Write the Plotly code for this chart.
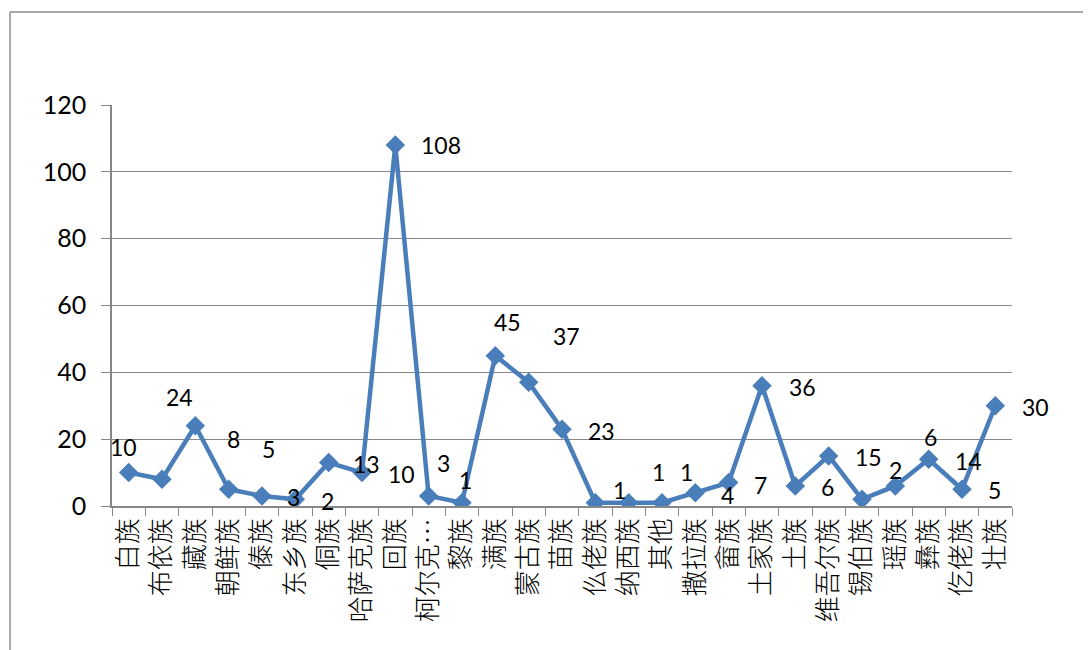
import plotly.graph_objects as go

categories = ["白族", "布依族", "藏族", "朝鲜族", "傣族", "东乡族", "侗族", "哈萨克族", "回族",
              "柯尔克孜族", "黎族", "满族", "蒙古族", "苗族", "仫佬族", "纳西族", "其他", "撒拉族",
              "畲族", "土家族", "土族", "维吾尔族", "锡伯族", "瑶族", "彝族", "仡佬族", "壮族"]
tick_labels = ["白族", "布依族", "藏族", "朝鲜族", "傣族", "东乡族", "侗族", "哈萨克族", "回族",
               "柯尔克…", "黎族", "满族", "蒙古族", "苗族", "仫佬族", "纳西族", "其他", "撒拉族",
               "畲族", "土家族", "土族", "维吾尔族", "锡伯族", "瑶族", "彝族", "仡佬族", "壮族"]
values = [10, 8, 24, 5, 3, 2, 13, 10, 108, 3, 1, 45, 37, 23, 1, 1, 1, 4, 7, 36, 6, 15, 2, 6, 14, 5, 30]
y_ticks = [0, 20, 40, 60, 80, 100, 120]

# label offsets (pixels) - style only
label_dx = [-5, 71, -16, 40, 31, 32, 38, 39, 46, 15, 3, 12, 38, 39, 24, 30, 24, 32, 32, 40, 32, 40, 33, 35, 40, 32, 40]
label_dy = [26, 40, 29, 40, -1, -2, -1, -1, 0, 33, 23, 34, 46, -2, 13, 31, 31, -2, -2, -1, -1, -1, 29, 49, -2, -1, -1]

BLUE = "#4a7ebb"
GRID = "#888888"
FONT = "Lato, Noto Sans CJK SC, sans-serif"

fig = go.Figure()
fig.add_trace(go.Scatter(
    x=categories, y=values, mode="lines+markers",
    line=dict(color=BLUE, width=4.5),
    marker=dict(symbol="diamond", size=15, color=BLUE),
    hoverinfo="x+y", showlegend=False,
))

for c, v, dx, dy in zip(categories, values, label_dx, label_dy):
    fig.add_annotation(x=c, y=v, text=str(v), showarrow=False, xshift=dx, yshift=dy,
                       font=dict(family=FONT, size=23, color="black"))

OFF = 8  # page body margin
W, H = 1091 - OFF, 650 - OFF
L, R, T, B = 112 - OFF, 1012 - OFF, 105 - OFF, 506 - OFF
px = lambda x: (x - L) / (R - L)
py = lambda y: (B - y) / (B - T)
frame_col = "#8c8c8c"
fig.add_shape(type="line", xref="paper", yref="paper", x0=px(10 - OFF), y0=py(12 - OFF), x1=px(W + 10), y1=py(12 - OFF),
              line=dict(color=frame_col, width=1.5))
fig.add_shape(type="line", xref="paper", yref="paper", x0=px(10 - OFF), y0=py(12 - OFF), x1=px(10 - OFF), y1=py(H + 10),
              line=dict(color=frame_col, width=1.5))

fig.update_layout(
    width=W, height=H,
    margin=dict(l=L, r=W - R, t=T, b=H - B, pad=0),
    plot_bgcolor="white", paper_bgcolor="white",
    font=dict(family=FONT, size=22, color="black"),
)
fig.update_xaxes(
    type="category", categoryorder="array", categoryarray=categories,
    tickmode="array", tickvals=categories, ticktext=tick_labels,
    range=[-0.5, len(categories) - 0.5],
    tickangle=-90, tickson="boundaries", ticks="outside", ticklen=8, tickcolor=GRID,
    showline=True, linecolor=GRID, linewidth=1.5, showgrid=False,
    tickfont=dict(family="Noto Sans CJK SC", size=26, color="black", weight=300),
)
fig.update_yaxes(
    range=[0, 120], tickmode="array", tickvals=y_ticks,
    ticks="outside", ticklen=9, tickcolor=GRID, ticklabelstandoff=10,
    showline=True, linecolor=GRID, linewidth=1.5,
    showgrid=True, gridcolor=GRID, gridwidth=1.2, zeroline=False,
    tickfont=dict(family=FONT, size=25, color="black"),
)

fig.write_html("out.html")
